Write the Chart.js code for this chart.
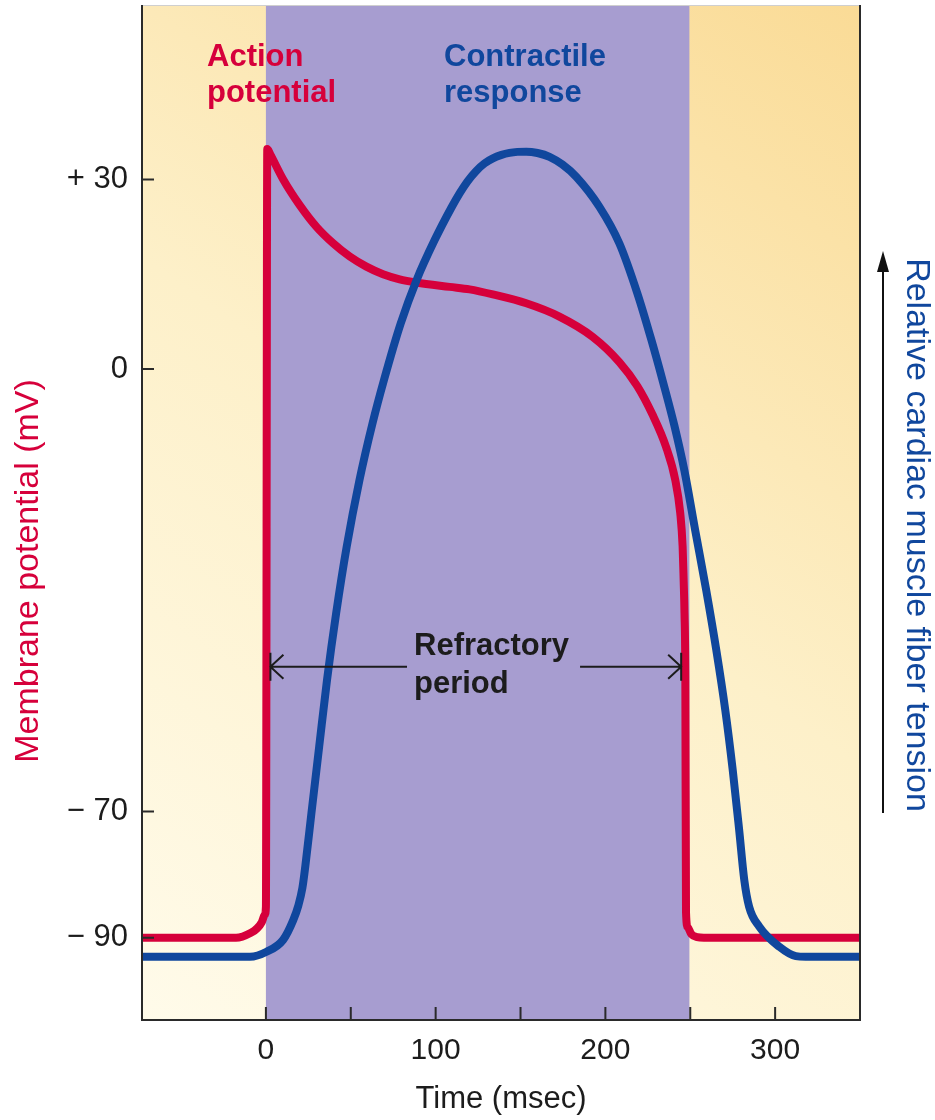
<!DOCTYPE html>
<html>
<head>
<meta charset="utf-8">
<title>Cardiac action potential and contractile response</title>
<script src="https://cdn.jsdelivr.net/npm/chart.js@4"></script>
<style>
  html, body { margin: 0; padding: 0; background: #fff; }
  canvas { display: block; }
</style>
</head>
<body>
<canvas id="chart" width="935" height="1120"></canvas>
<script>
// Values (time in msec)
const redTime = [-73, -17.6, -8.8, -5.2, -2.4, -0.6, 0, 0.8, 2.5, 10.2, 20, 29.8, 39.6, 49.4, 59.2, 69, 78.8, 88.6, 108.2, 120, 133.7, 153.4, 172.9, 192.5, 208.2, 218.8, 227.6, 235.7, 241.2, 244.1, 245.5, 246.1, 246.6, 247.1, 247.5, 248.5, 250.6, 254.1, 258, 350];
const redVoltage = [-90, -90, -89.2, -88.5, -87.5, -86.3, -85.1, 34.8, 34.0, 30.0, 25.9, 22.5, 19.9, 17.8, 16.2, 15.0, 14.2, 13.7, 13.0, 12.6, 11.8, 10.4, 8.3, 5.1, 1.11, -2.69, -7.12, -12.3, -17.6, -22.8, -28.1, -33.4, -38.6, -49.2, -86, -88.3, -89.4, -89.9, -90, -90];

const blueTime = [-73, -9.4, 0.4, 10.2, 16.1, 19.1, 21.5, 23.2, 26.8, 31.4, 36.0, 41.4, 47.6, 55.1, 62.8, 69.6, 79.4, 88.8, 99.4, 109.4, 114.1, 118.8, 123.9, 128.8, 133.7, 138.8, 143.5, 148.2, 153.4, 160.0, 167.1, 174.7, 182.8, 196.5, 208.2, 218.8, 227.1, 234.1, 240.6, 246.5, 252.9, 259.4, 265.3, 270.6, 275.0, 278.8, 281.8, 284.7, 290.6, 302.4, 312.2, 318, 350];
const blueTension = [-93, -93, -92.2, -90.3, -87.2, -84.9, -82.1, -78.7, -70.3, -59.7, -49.2, -38.6, -28.1, -17.6, -8.6, -1.7, 7.2, 14.1, 20.4, 25.6, 27.8, 29.71, 31.35, 32.54, 33.33, 33.88, 34.2, 34.36, 34.4, 34.18, 33.58, 32.35, 30.42, 25.66, 19.9, 12.0, 4.6, -2.2, -8.9, -16.0, -25.5, -35.0, -44.4, -53.9, -63.4, -72.9, -80.8, -85.1, -88.2, -91.4, -92.9, -93, -93];

const yTickValues = [30, 0, -70, -90];
const yTickLabels = ['+ 30', '0', '\u2212 70', '\u2212 90'];
const xTickValues = [0, 100, 200, 300];
const xTickMarks = [0, 50, 100, 150, 200, 250, 300];

// refractory period band and arrow
const refractoryStart = 0;
const refractoryEnd = 249.5;
const repolarisedAt = 247.3;
const arrowLevel = -47.1;

const FONT = '"Liberation Sans", Arial, Helvetica, sans-serif';
const RED = '#d6003b';
const BLUE = '#10479d';
const INK = '#1c1c1c';

function toPoints(xs, ys) {
  return xs.map((t, i) => ({ x: t, y: ys[i] }));
}

const decorations = {
  id: 'decorations',
  beforeDatasetsDraw(chart) {
    const { ctx, chartArea: a, scales: { x } } = chart;
    ctx.save();
    // warm backdrop, lighter toward the bottom left
    const g = ctx.createLinearGradient(a.left, a.bottom, a.right, a.top);
    g.addColorStop(0, '#fffbea');
    g.addColorStop(0.5, '#fdf0c9');
    g.addColorStop(1, '#fadb96');
    ctx.fillStyle = g;
    ctx.fillRect(a.left, a.top, a.right - a.left, a.bottom - a.top);
    // purple band for the refractory period
    const x0 = x.getPixelForValue(refractoryStart);
    const x1 = x.getPixelForValue(refractoryEnd);
    ctx.fillStyle = '#a79dd0';
    ctx.fillRect(x0, a.top, x1 - x0, a.bottom - a.top);
    ctx.restore();
  },
  afterDatasetsDraw(chart) {
    const { ctx, chartArea: a, scales: { x, y } } = chart;
    ctx.save();

    // frame
    ctx.strokeStyle = '#cfcfcf';
    ctx.lineWidth = 1;
    ctx.beginPath();
    ctx.moveTo(a.left, a.top + 0.5);
    ctx.lineTo(a.right, a.top + 0.5);
    ctx.stroke();
    ctx.strokeStyle = '#2a2a2a';
    ctx.lineWidth = 2;
    ctx.beginPath();
    ctx.moveTo(a.left, a.top);
    ctx.lineTo(a.left, a.bottom);
    ctx.lineTo(a.right, a.bottom);
    ctx.lineTo(a.right, a.top);
    ctx.stroke();

    // inward tick marks
    ctx.beginPath();
    yTickValues.forEach(v => {
      const py = y.getPixelForValue(v);
      ctx.moveTo(a.left, py);
      ctx.lineTo(a.left + 12, py);
    });
    xTickMarks.forEach(v => {
      const px = x.getPixelForValue(v);
      ctx.moveTo(px, a.bottom);
      ctx.lineTo(px, a.bottom - 13);
    });
    ctx.stroke();

    // refractory period arrow
    ctx.font = 'bold 31px ' + FONT;
    ctx.fillStyle = INK;
    ctx.textAlign = 'left';
    ctx.textBaseline = 'alphabetic';
    const textX = 414;
    const textW = ctx.measureText('Refractory').width;
    ctx.fillText('Refractory', textX, 655);
    ctx.fillText('period', textX, 693);

    const ya = y.getPixelForValue(arrowLevel);
    const xl = x.getPixelForValue(refractoryStart) + 4.5;
    const xr = x.getPixelForValue(repolarisedAt) - 4.5;
    ctx.strokeStyle = INK;
    ctx.lineWidth = 2;
    ctx.beginPath();
    ctx.moveTo(xl, ya); ctx.lineTo(textX - 7, ya);
    ctx.moveTo(textX + textW + 11, ya); ctx.lineTo(xr, ya);
    // open arrow heads
    ctx.moveTo(xl + 13, ya - 12); ctx.lineTo(xl, ya); ctx.lineTo(xl + 13, ya + 12);
    ctx.moveTo(xr - 13, ya - 12); ctx.lineTo(xr, ya); ctx.lineTo(xr - 13, ya + 12);
    // end bars
    ctx.moveTo(xl, ya - 14); ctx.lineTo(xl, ya + 14);
    ctx.moveTo(xr, ya - 14); ctx.lineTo(xr, ya + 14);
    ctx.stroke();

    // curve labels
    ctx.fillStyle = RED;
    ctx.fillText('Action', 207, 66);
    ctx.fillText('potential', 207, 102);
    ctx.fillStyle = BLUE;
    ctx.fillText('Contractile', 444, 66);
    ctx.fillText('response', 444, 102);

    // left axis title
    ctx.font = '34px ' + FONT;
    ctx.textAlign = 'center';
    ctx.textBaseline = 'middle';
    ctx.fillStyle = RED;
    ctx.save();
    ctx.translate(29, 571);
    ctx.rotate(-Math.PI / 2);
    ctx.fillText('Membrane potential (mV)', 0, 0);
    ctx.restore();

    // right axis title and arrow
    ctx.fillStyle = BLUE;
    ctx.save();
    ctx.translate(916, 535);
    ctx.rotate(Math.PI / 2);
    ctx.fillText('Relative cardiac muscle fiber tension', 0, 0);
    ctx.restore();

    ctx.strokeStyle = '#111';
    ctx.lineWidth = 2;
    ctx.beginPath();
    ctx.moveTo(883, 813);
    ctx.lineTo(883, 268);
    ctx.stroke();
    ctx.fillStyle = '#111';
    ctx.beginPath();
    ctx.moveTo(883, 251);
    ctx.lineTo(877, 272);
    ctx.lineTo(889, 272);
    ctx.closePath();
    ctx.fill();

    ctx.restore();
  }
};

new Chart(document.getElementById('chart'), {
  type: 'line',
  data: {
    datasets: [
      {
        label: 'Contractile response',
        data: toPoints(blueTime, blueTension),
        borderColor: BLUE,
        borderWidth: 8,
        pointRadius: 0,
        cubicInterpolationMode: 'monotone',
        order: 0
      },
      {
        label: 'Action potential',
        data: toPoints(redTime, redVoltage),
        borderColor: RED,
        borderWidth: 8,
        pointRadius: 0,
        cubicInterpolationMode: 'monotone',
        order: 1
      }
    ]
  },
  options: {
    responsive: false,
    devicePixelRatio: 1,
    animation: false,
    events: [],
    layout: { padding: { left: 0, top: 5, right: 75, bottom: 0 } },
    plugins: { legend: { display: false }, tooltip: { enabled: false } },
    scales: {
      x: {
        type: 'linear',
        min: -73,
        max: 350,
        afterBuildTicks: s => { s.ticks = xTickValues.map(v => ({ value: v })); },
        afterFit: s => { s.height = 100; s.paddingLeft = 0; s.paddingRight = 0; },
        grid: { display: false, drawTicks: false },
        border: { display: false },
        ticks: {
          autoSkip: false,
          maxRotation: 0,
          padding: 13,
          color: INK,
          font: { family: FONT, size: 30 },
          callback: v => String(v)
        },
        title: {
          display: true,
          text: 'Time (msec)',
          color: INK,
          font: { family: FONT, size: 31 },
          padding: { top: 0, bottom: 2 }
        }
      },
      y: {
        type: 'linear',
        min: -103,
        max: 57.6,
        afterBuildTicks: s => { s.ticks = yTickValues.map(v => ({ value: v })); },
        afterFit: s => { s.width = 142; s.paddingTop = 0; s.paddingBottom = 0; },
        grid: { display: false, drawTicks: false },
        border: { display: false },
        ticks: {
          autoSkip: false,
          padding: 14,
          color: INK,
          font: { family: FONT, size: 31 },
          callback: (v, i) => yTickLabels[i]
        }
      }
    }
  },
  plugins: [decorations]
});
</script>
</body>
</html>
